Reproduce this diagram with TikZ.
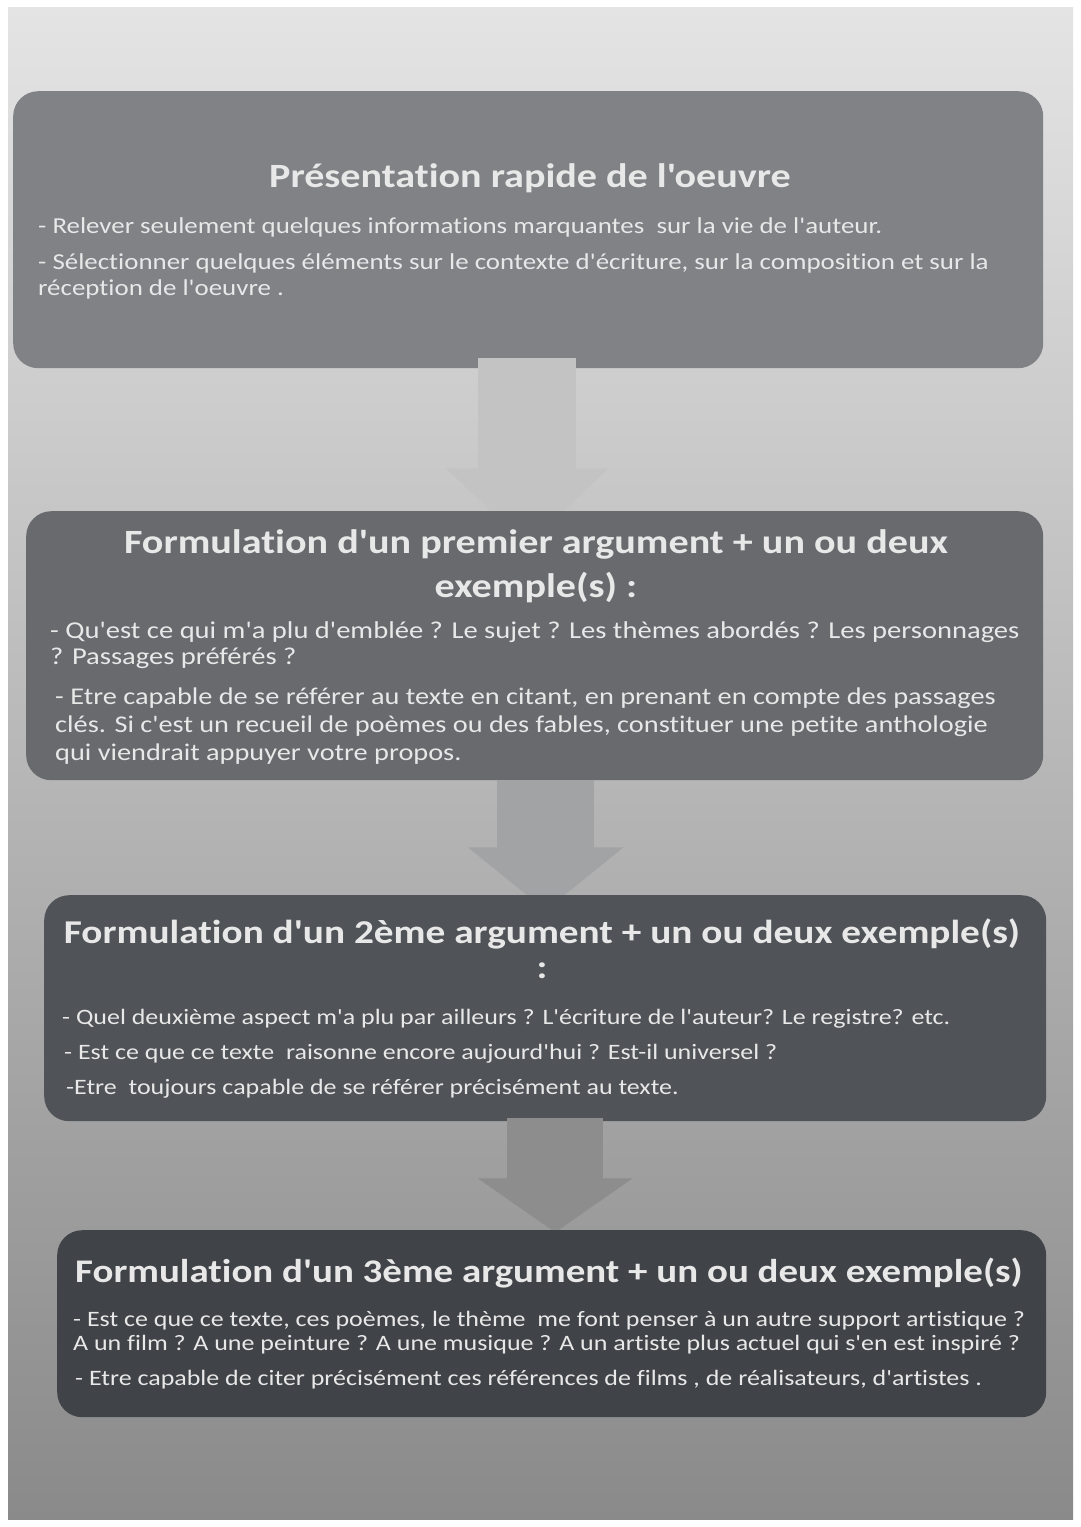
\documentclass[tikz,border=0pt]{standalone}
\usepackage{fontspec}
\setmainfont{Carlito}[FakeStretch=1.18, Ligatures={TeXOff,NoCommon}]
\usetikzlibrary{arrows.meta}
\definecolor{fondhaut}{HTML}{E4E4E4}
\definecolor{fondmilieu}{HTML}{BEBEBE}
\definecolor{fondbas}{HTML}{8A8A8A}
\definecolor{boiteA}{HTML}{808285}
\definecolor{boiteB}{HTML}{686A6D}
\definecolor{boiteC}{HTML}{505357}
\definecolor{boiteD}{HTML}{404347}
\definecolor{flecheA}{HTML}{C3C3C3}
\definecolor{flecheB}{HTML}{A2A3A5}
\definecolor{flecheC}{HTML}{8D8D8E}
\definecolor{ecriture}{HTML}{E8E8E8}
\tikzstyle{cadre} = [rectangle, rounded corners=25pt, inner sep=0pt, anchor=north west]
\tikzstyle{titre} = [text=ecriture, font=\bfseries\fontsize{34}{44}\selectfont, align=center, inner sep=0pt, anchor=base]
\tikzstyle{texte} = [text=ecriture, font=\fontsize{23}{26}\selectfont, align=left, inner sep=0pt, anchor=base west]
\tikzstyle{fleche} = [line width=98pt]

\begin{document}
\begin{tikzpicture}[x=1pt,y=-1pt]
	\useasboundingbox (0,0) rectangle (1080,1527);
	\fill[white] (0,0) rectangle (1080,1527);
	\shade[top color=fondhaut, middle color=fondmilieu, bottom color=fondbas] (8,7) rectangle (1073,1519);

	\node[cadre, fill=boiteA, minimum width=1030pt, minimum height=277pt] (oeuvre) at (13,91) {};
	\node[titre] (titreoeuvre) at (530,187) {Présentation rapide de l'oeuvre};
	\node[texte, font=\fontsize{22.8}{26}\selectfont] (auteur) at (38,233) {- Relever seulement quelques informations marquantes~ sur la vie de l'auteur.};
	\node[texte, font=\fontsize{22.8}{26}\selectfont] (contexte) at (38,295) {- Sélectionner quelques éléments sur le contexte d'écriture, sur la composition et sur la\\réception de l'oeuvre .};

	\draw[fleche, flecheA, -{Triangle[width=158pt,length=77pt]}] ([xshift=-1pt,yshift=10pt]oeuvre.south) -- ++(0,187);

	\node[cadre, fill=boiteB, minimum width=1017pt, minimum height=269pt] (premier) at (26,511) {};
	\node[titre] (titrepremier) at (536,597) {Formulation d'un premier argument + un ou deux\\exemple(s) :};
	\node[texte, font=\fontsize{24.2}{26}\selectfont] (sujet) at (50,664) {- Qu'est ce qui m'a plu d'emblée ? Le sujet ? Les thèmes abordés ? Les personnages\\? Passages préférés ?};
	\node[texte, font=\fontsize{24}{28}\selectfont] (citer) at (55,760) {- Etre capable de se référer au texte en citant, en prenant en compte des passages\\clés. Si c'est un recueil de poèmes ou des fables, constituer une petite anthologie\\qui viendrait appuyer votre propos.};

	\draw[fleche, flecheB, line width=97pt, -{Triangle[width=152pt,length=63pt]}] ([xshift=11pt]premier.south) -- ++(0,130);

	\node[cadre, fill=boiteC, minimum width=1002pt, minimum height=226pt] (deuxieme) at (44,895) {};
	\node[titre, font=\bfseries\fontsize{33.3}{44}\selectfont] (titredeuxieme) at (542,978) {Formulation d'un 2ème argument + un ou deux exemple(s)\\[-9pt]:};
	\node[texte, font=\fontsize{22}{26}\selectfont] (aspect) at (62,1024) {- Quel deuxième aspect m'a plu par ailleurs ? L'écriture de l'auteur? Le registre? etc.};
	\node[texte, font=\fontsize{22}{26}\selectfont] (universel) at (64,1059) {- Est ce que ce texte~ raisonne encore aujourd'hui ? Est-il universel ?};
	\node[texte, font=\fontsize{22}{26}\selectfont] (toujours) at (66,1094) {-Etre~ toujours capable de se référer précisément au texte.};

	\draw[fleche, flecheC, line width=96pt, -{Triangle[width=152pt,length=54pt]}] ([xshift=10pt,yshift=3pt]deuxieme.south) -- ++(0,114);

	\node[cadre, fill=boiteD, minimum width=989pt, minimum height=187pt] (troisieme) at (57,1230) {};
	\node[titre, font=\bfseries\fontsize{33}{44}\selectfont] (titretroisieme) at (549,1282) {Formulation d'un 3ème argument + un ou deux exemple(s)};
	\node[texte, font=\fontsize{22}{24}\selectfont] (support) at (73,1350) {- Est ce que ce texte, ces poèmes, le thème~ me font penser à un autre support artistique ?\\A un film ? A une peinture ? A une musique ? A un artiste plus actuel qui s'en est inspiré ?};
	\node[texte, font=\fontsize{22}{24}\selectfont] (references) at (75,1385) {- Etre capable de citer précisément ces références de films , de réalisateurs, d'artistes .};
\end{tikzpicture}
\end{document}
